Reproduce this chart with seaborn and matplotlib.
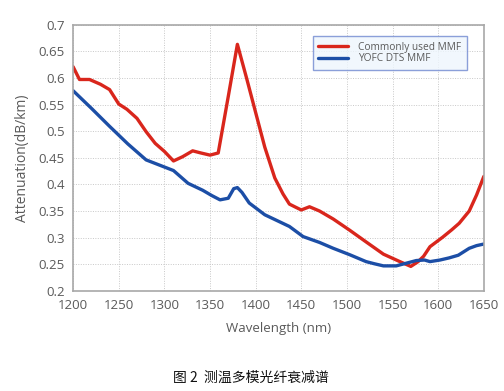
import numpy as np
import pandas as pd
import matplotlib
matplotlib.use("Agg")
import matplotlib.pyplot as plt
import seaborn as sns

# Data
red_wl = [1200, 1207, 1218, 1230, 1240, 1250, 1259, 1270, 1280, 1290, 1300, 1310, 1320, 1331,
          1340, 1350, 1359, 1370, 1380, 1390, 1400, 1410, 1421, 1430, 1437, 1444, 1450, 1459,
          1470, 1485, 1503, 1521, 1540, 1558, 1570, 1578, 1584, 1591, 1605, 1615, 1623, 1634,
          1642, 1650]
red_att = [0.621, 0.597, 0.597, 0.588, 0.578, 0.551, 0.541, 0.524, 0.499, 0.477, 0.462, 0.444,
           0.452, 0.463, 0.459, 0.455, 0.459, 0.565, 0.663, 0.600, 0.535, 0.470, 0.412, 0.382,
           0.363, 0.357, 0.352, 0.358, 0.350, 0.335, 0.314, 0.292, 0.269, 0.255, 0.246, 0.255,
           0.265, 0.283, 0.301, 0.315, 0.327, 0.350, 0.380, 0.415]

blue_wl = [1200, 1220, 1240, 1260, 1280, 1295, 1310, 1326, 1342, 1352, 1361, 1370, 1376, 1380,
           1385, 1393, 1410, 1437, 1452, 1470, 1485, 1503, 1521, 1530, 1540, 1554, 1565, 1576,
           1585, 1591, 1602, 1612, 1622, 1634, 1642, 1650]
blue_att = [0.576, 0.543, 0.509, 0.476, 0.446, 0.436, 0.426, 0.402, 0.389, 0.379, 0.371, 0.374,
            0.392, 0.394, 0.385, 0.365, 0.343, 0.321, 0.302, 0.291, 0.280, 0.268, 0.255, 0.251,
            0.247, 0.247, 0.252, 0.257, 0.258, 0.255, 0.258, 0.262, 0.267, 0.280, 0.285, 0.288]

series_names = ["Commonly used MMF", "YOFC DTS MMF"]
series_colors = ["#d9261c", "#1c4ea6"]
x_ticks = [1200, 1250, 1300, 1350, 1400, 1450, 1500, 1550, 1600, 1650]
y_ticks = [0.2, 0.25, 0.3, 0.35, 0.4, 0.45, 0.5, 0.55, 0.6, 0.65, 0.7]
y_labels = ["0.2", "0.25", "0.3", "0.35", "0.4", "0.45", "0.5", "0.55", "0.6", "0.65", "0.7"]

df = pd.concat([
    pd.DataFrame({"wl": red_wl, "att": red_att, "fiber": series_names[0]}),
    pd.DataFrame({"wl": blue_wl, "att": blue_att, "fiber": series_names[1]}),
])

sns.set_style("white")
plt.rcParams["font.family"] = ["Open Sans", "DejaVu Sans"]
grey = "#5a5a5a"

fig = plt.figure(figsize=(5.04, 3.91), dpi=100)
ax = fig.add_axes([0.145, 0.256, 0.815, 0.681])

sns.lineplot(data=df, x="wl", y="att", hue="fiber", palette=series_colors,
             linewidth=2.4, sort=False, ax=ax)

ax.set_xlim(1200, 1650)
ax.set_ylim(0.2, 0.7)
ax.set_xticks(x_ticks)
ax.set_yticks(y_ticks)
ax.set_yticklabels(y_labels)
ax.grid(True, linestyle=(0, (1, 1.5)), color="#c8c8c8", linewidth=0.7)
for s in ax.spines.values():
    s.set_color("#a8a8a8")
    s.set_linewidth(1.2)
ax.tick_params(axis="both", labelsize=9.5, colors=grey, length=0, pad=6)
ax.set_xlabel("Wavelength (nm)", fontsize=9.5, color=grey, labelpad=7)
ax.set_ylabel("Attenuation(dB/km)", fontsize=10, color=grey, labelpad=6)

leg = ax.legend(loc="upper right", bbox_to_anchor=(0.958, 0.957), borderaxespad=0,
                fontsize=7.3, frameon=True, fancybox=False, handlelength=2.9,
                labelspacing=0.05, borderpad=0.55, handletextpad=1.0)
leg.get_frame().set_facecolor("#eef6fd")
leg.get_frame().set_edgecolor("#7088d0")
leg.get_frame().set_linewidth(1.0)
for t in leg.get_texts():
    t.set_color(grey)

fig.text(0.497, 0.033, "图 2  测温多模光纤衰减谱", ha="center", va="center", fontsize=10,
         family=["Noto Sans CJK SC", "DejaVu Sans"], color="#111111")

fig.savefig("out.png", dpi=100)
